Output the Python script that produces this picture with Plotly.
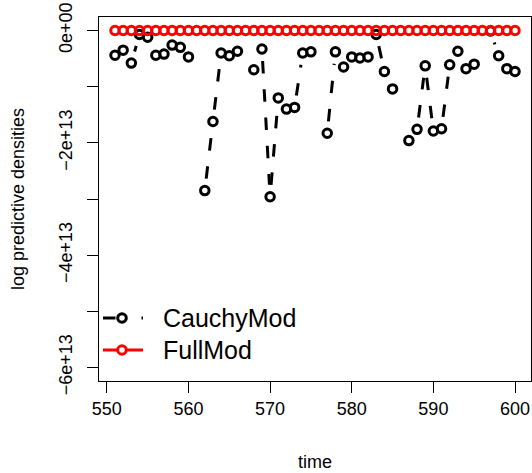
import math
import plotly.graph_objects as go

# ---------------- data ----------------
time = list(range(551, 601))

cauchy_mod = [
    -4.4e12, -3.5e12, -5.8e12, -0.7e12, -1.2e12, -4.4e12, -4.2e12, -2.6e12, -3.0e12, -4.7e12,
    None, -28.5e12, -16.2e12, -4.0e12, -4.5e12, -3.7e12, None, -7.0e12, -3.3e12, -29.6e12,
    -12.0e12, -14.0e12, -13.7e12, -4.0e12, -3.8e12, None, -18.3e12, -3.8e12, -6.5e12, -4.7e12,
    -4.9e12, -4.7e12, -0.7e12, -7.3e12, -10.4e12, None, -19.6e12, -17.6e12, -6.3e12, -17.9e12,
    -17.5e12, -6.1e12, -3.7e12, -6.8e12, -6.0e12, None, -0.1e12, -4.5e12, -6.8e12, -7.3e12,
]

full_mod = [
    0, 0, 0, 0, 0, 0, 0, 0, 0, 0,
    0, 0, 0, 0, 0, 0, 0, 0, 0, 0,
    0, 0, 0, 0, 0, 0, 0, 0, 0, 0,
    0, 0, 0, 0, 0, 0, 0, 0, 0, 0,
    0, 0, 0, 0, 0, 0, 0, 0, 0, 0,
]

series_names = ["CauchyMod", "FullMod"]
series_colors = ["black", "red"]

x_ticks = [550, 560, 570, 580, 590, 600]
y_ticks = [0, -1e13, -2e13, -3e13, -4e13, -5e13, -6e13]
y_ticktext = ["0e+00", "", "\u22122e+13", "", "\u22124e+13", "", "\u22126e+13"]

# ---------------- layout geometry ----------------
WIDTH, HEIGHT = 532, 473
ML, MR, MT, MB = 99, 1, 17, 92
x_range = [549.04, 601.96]
y_range = [-6.24e13, 0.24e13]
PW = WIDTH - ML - MR
PH = HEIGHT - MT - MB
sx = PW / (x_range[1] - x_range[0])
sy = PH / (y_range[1] - y_range[0])
GAP = 12  # px gap around points, like R type="b"


def gapped_segments(xs, ys):
    sxs, sys_ = [], []
    for i in range(1, len(xs)):
        y0, y1 = ys[i - 1], ys[i]
        if y0 is None or y1 is None:
            continue
        x0, x1 = xs[i - 1], xs[i]
        L = math.hypot((x1 - x0) * sx, (y1 - y0) * sy)
        if L == 0:
            continue
        f = GAP / L
        if f < 0.5:
            sxs += [x0 + f * (x1 - x0), x1 + f * (x0 - x1), None]
            sys_ += [y0 + f * (y1 - y0), y1 + f * (y0 - y1), None]
    return sxs, sys_


def px_to_paper_x(px):
    return (px - ML) / PW


def px_to_paper_y(py):
    return (HEIGHT - MB - py) / PH


DASH = "12.5px,15.8px"
FONT = "Liberation Sans, Arial, Helvetica, sans-serif"
MSIZE, MLW = 8.5, 3

fig = go.Figure()

cx, cy = gapped_segments(time, cauchy_mod)
fig.add_trace(go.Scatter(x=cx, y=cy, mode="lines", showlegend=False, hoverinfo="skip",
                         line=dict(color=series_colors[0], width=3, dash=DASH)))
fig.add_trace(go.Scatter(x=time, y=cauchy_mod, mode="markers", name=series_names[0],
                         showlegend=False,
                         marker=dict(symbol="circle-open", size=MSIZE, color=series_colors[0],
                                     line=dict(width=MLW, color=series_colors[0]))))

fx, fy = gapped_segments(time, full_mod)
fig.add_trace(go.Scatter(x=fx, y=fy, mode="lines", showlegend=False, hoverinfo="skip",
                         line=dict(color=series_colors[1], width=3)))
fig.add_trace(go.Scatter(x=time, y=full_mod, mode="markers", name=series_names[1],
                         showlegend=False,
                         marker=dict(symbol="circle-open", size=MSIZE, color=series_colors[1],
                                     line=dict(width=MLW, color=series_colors[1]))))

# ---------------- manual R-style legend ----------------
shapes, annotations = [], []
leg_rows = [318, 350]          # pixel centres of legend rows
leg_line = (103, 143)          # pixel extent of legend symbol line
leg_pt = 122                   # pixel x of legend point
leg_text = 161                 # pixel x of legend text
leg_dash = ["12.5px,26px", "solid"]
for name, col, row, dsh in zip(series_names, series_colors, leg_rows, leg_dash):
    yp = px_to_paper_y(row)
    shapes.append(dict(type="line", xref="paper", yref="paper",
                       x0=px_to_paper_x(leg_line[0]), x1=px_to_paper_x(leg_line[1]),
                       y0=yp, y1=yp, line=dict(color=col, width=3, dash=dsh)))
    shapes.append(dict(type="circle", xref="paper", yref="paper",
                       xsizemode="pixel", ysizemode="pixel",
                       xanchor=px_to_paper_x(leg_pt), yanchor=yp,
                       x0=-4.3, x1=4.3, y0=-4.3, y1=4.3,
                       fillcolor="white", line=dict(color=col, width=3)))
    annotations.append(dict(xref="paper", yref="paper", x=px_to_paper_x(leg_text), y=yp,
                            xanchor="left", yanchor="middle", text=name, showarrow=False,
                            font=dict(size=25, color="black", family=FONT)))

axis_common = dict(showline=True, mirror=True, linecolor="black", linewidth=1,
                   ticks="outside", ticklen=11, tickwidth=1, tickcolor="black",
                   showgrid=False, zeroline=False,
                   tickfont=dict(size=18, color="black", family=FONT))

fig.update_xaxes(range=x_range, tickvals=x_ticks, ticktext=[str(v) for v in x_ticks],
                 title=dict(text="time", font=dict(size=18, color="black", family=FONT),
                            standoff=37),
                 **axis_common)
fig.update_yaxes(range=y_range, tickvals=y_ticks, ticktext=y_ticktext, tickangle=-90,
                 ticklabelstandoff=8,
                 title=dict(text="log predictive densities",
                            font=dict(size=18, color="black", family=FONT), standoff=26),
                 **axis_common)

fig.update_layout(
    width=WIDTH, height=HEIGHT,
    margin=dict(l=ML, r=MR, t=MT, b=MB, autoexpand=False),
    paper_bgcolor="white", plot_bgcolor="white",
    font=dict(family=FONT, color="black", size=18),
    showlegend=False,
    shapes=shapes,
    annotations=annotations,
)

fig.write_html("out.html")
